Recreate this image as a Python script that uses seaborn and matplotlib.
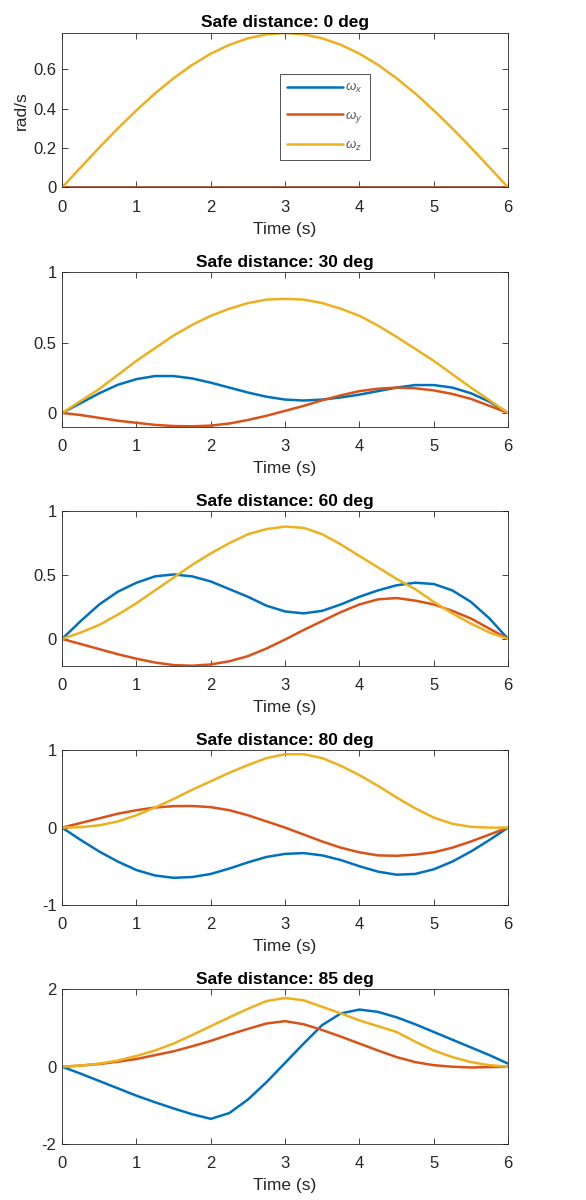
import numpy as np
import pandas as pd
import matplotlib
matplotlib.use("Agg")
import matplotlib.pyplot as plt
import seaborn as sns
from matplotlib.ticker import FuncFormatter

# ---- data ----
t = [0, 0.25, 0.5, 0.75, 1, 1.25, 1.5, 1.75, 2, 2.25, 2.5, 2.75, 3,
     3.25, 3.5, 3.75, 4, 4.25, 4.5, 4.75, 5, 5.25, 5.5, 5.75, 6]

titles = ["Safe distance: 0 deg", "Safe distance: 30 deg", "Safe distance: 60 deg",
          "Safe distance: 80 deg", "Safe distance: 85 deg"]
components = [r"$\omega_x$", r"$\omega_y$", r"$\omega_z$"]

# 0 deg
wx_0 = [0] * 25
wy_0 = [0] * 25
wz_0 = [0, 0.102, 0.203, 0.300, 0.392, 0.478, 0.555, 0.623, 0.680, 0.725, 0.758, 0.778, 0.785,
        0.778, 0.758, 0.725, 0.680, 0.623, 0.555, 0.478, 0.392, 0.300, 0.203, 0.102, 0]

# 30 deg
wx_30 = [0, 0.07, 0.14, 0.20, 0.24, 0.262, 0.262, 0.245, 0.215, 0.18, 0.145, 0.115, 0.095,
         0.088, 0.095, 0.11, 0.13, 0.155, 0.18, 0.198, 0.198, 0.18, 0.14, 0.08, 0]
wy_30 = [0, -0.015, -0.035, -0.055, -0.07, -0.085, -0.093, -0.095, -0.09, -0.075, -0.05, -0.02, 0.015,
         0.05, 0.09, 0.125, 0.155, 0.172, 0.18, 0.175, 0.16, 0.135, 0.10, 0.05, 0]
wz_30 = [0, 0.085, 0.17, 0.27, 0.37, 0.46, 0.55, 0.625, 0.69, 0.74, 0.78, 0.805, 0.81,
         0.805, 0.78, 0.74, 0.69, 0.62, 0.54, 0.455, 0.37, 0.275, 0.18, 0.09, 0]

# 60 deg
wx_60 = [0, 0.14, 0.27, 0.37, 0.44, 0.49, 0.505, 0.49, 0.45, 0.39, 0.33, 0.26, 0.215,
         0.20, 0.22, 0.27, 0.33, 0.38, 0.42, 0.44, 0.43, 0.38, 0.29, 0.16, 0]
wy_60 = [0, -0.04, -0.08, -0.12, -0.155, -0.185, -0.205, -0.21, -0.20, -0.175, -0.135, -0.075, -0.005,
         0.07, 0.14, 0.21, 0.27, 0.31, 0.32, 0.30, 0.27, 0.22, 0.16, 0.08, 0]
wz_60 = [0, 0.05, 0.11, 0.19, 0.28, 0.38, 0.48, 0.58, 0.67, 0.75, 0.82, 0.86, 0.88,
         0.87, 0.82, 0.74, 0.65, 0.56, 0.47, 0.39, 0.29, 0.20, 0.12, 0.05, 0]

# 80 deg
wx_80 = [0, -0.16, -0.31, -0.44, -0.55, -0.62, -0.65, -0.64, -0.60, -0.53, -0.45, -0.38, -0.34,
         -0.33, -0.36, -0.42, -0.50, -0.57, -0.61, -0.60, -0.54, -0.44, -0.31, -0.16, 0]
wy_80 = [0, 0.06, 0.12, 0.18, 0.225, 0.26, 0.278, 0.28, 0.265, 0.225, 0.16, 0.08, 0.0,
         -0.09, -0.18, -0.26, -0.32, -0.36, -0.365, -0.35, -0.32, -0.26, -0.18, -0.09, 0]
wz_80 = [0, 0.005, 0.03, 0.08, 0.16, 0.26, 0.37, 0.49, 0.60, 0.71, 0.81, 0.90, 0.95,
         0.95, 0.90, 0.80, 0.68, 0.54, 0.39, 0.25, 0.13, 0.05, 0.01, 0.0, 0]

# 85 deg
wx_85 = [0, -0.18, -0.37, -0.56, -0.75, -0.92, -1.08, -1.23, -1.35, -1.20, -0.85, -0.40, 0.10,
         0.60, 1.08, 1.38, 1.48, 1.42, 1.28, 1.10, 0.90, 0.70, 0.50, 0.30, 0.08]
wy_85 = [0, 0.03, 0.07, 0.13, 0.20, 0.30, 0.40, 0.53, 0.67, 0.83, 0.98, 1.12, 1.18,
         1.10, 0.95, 0.78, 0.60, 0.42, 0.25, 0.12, 0.04, 0.0, -0.02, -0.01, 0]
wz_85 = [0, 0.03, 0.08, 0.16, 0.28, 0.42, 0.60, 0.82, 1.05, 1.28, 1.50, 1.70, 1.78,
         1.72, 1.55, 1.38, 1.20, 1.05, 0.90, 0.65, 0.42, 0.25, 0.12, 0.04, 0]

series = [(wx_0, wy_0, wz_0), (wx_30, wy_30, wz_30), (wx_60, wy_60, wz_60),
          (wx_80, wy_80, wz_80), (wx_85, wy_85, wz_85)]
ylims = [(0, 0.785), (-0.097, 1.0), (-0.21, 1.0), (-1, 1), (-2, 2)]
yticks = [[0, 0.2, 0.4, 0.6], [0, 0.5, 1], [0, 0.5, 1], [-1, 0, 1], [-2, 0, 2]]
xticks = [0, 1, 2, 3, 4, 5, 6]

colors = ["#0072BD", "#D95319", "#EDB120"]

# ---- style ----
sns.set_theme(style="ticks")
plt.rcParams["font.family"] = ["Liberation Sans", "DejaVu Sans"]
plt.rcParams["axes.unicode_minus"] = False
plt.rcParams["mathtext.fontset"] = "custom"
plt.rcParams["mathtext.it"] = "Liberation Sans:italic"
plt.rcParams["mathtext.rm"] = "Liberation Sans"
plt.rcParams["lines.solid_joinstyle"] = "round"
plt.rcParams["lines.solid_capstyle"] = "round"
axcol = "#262626"

fig, axes = plt.subplots(5, 1, figsize=(5.86, 12), dpi=100)
fig.subplots_adjust(left=0.106, right=0.867, top=0.9725, bottom=0.0467, hspace=0.548)

fmt = FuncFormatter(lambda v, p: ("%g" % v))

for i, ax in enumerate(axes):
    wx, wy, wz = series[i]
    df = pd.DataFrame({
        "t": t * 3,
        "value": list(wx) + list(wy) + list(wz),
        "component": [components[0]] * len(t) + [components[1]] * len(t) + [components[2]] * len(t),
    })
    sns.lineplot(data=df, x="t", y="value", hue="component", hue_order=components,
                 palette=colors, linewidth=1.8, ax=ax, legend=False, sort=False)
    ax.set_xlim(0, 6)
    ax.set_ylim(*ylims[i])
    ax.set_xticks(xticks)
    ax.set_yticks(yticks[i])
    ax.yaxis.set_major_formatter(fmt)
    ax.xaxis.set_major_formatter(fmt)
    ax.tick_params(direction="in", length=4, width=0.6, top=True, right=True,
                   labelsize=12, colors=axcol)
    ax.tick_params(axis="x", pad=9)
    ax.tick_params(axis="y", pad=4)
    for s in ax.spines.values():
        s.set_visible(True)
        s.set_linewidth(0.6)
        s.set_color(axcol)
    ax.set_title(titles[i], fontsize=12.5, fontweight="bold", pad=4, color="black")
    ax.set_xlabel("Time (s)", fontsize=12.5, color=axcol, labelpad=5)
    if i == 0:
        ax.set_ylabel("rad/s", fontsize=12.5, color=axcol, labelpad=3)
        handles = ax.get_lines()[:3]
        leg = ax.legend(handles, components, loc="upper left",
                        bbox_to_anchor=(0.489, 0.735), fontsize=9.5,
                        handlelength=4.2, handletextpad=0.2, labelspacing=1.05,
                        frameon=True, fancybox=False, borderpad=0.55, borderaxespad=0)
        leg.get_frame().set_edgecolor(axcol)
        leg.get_frame().set_linewidth(0.7)
        for txt in leg.get_texts():
            txt.set_color("#555555")
    else:
        ax.set_ylabel("")

fig.savefig("out.png", dpi=100, facecolor="white")
